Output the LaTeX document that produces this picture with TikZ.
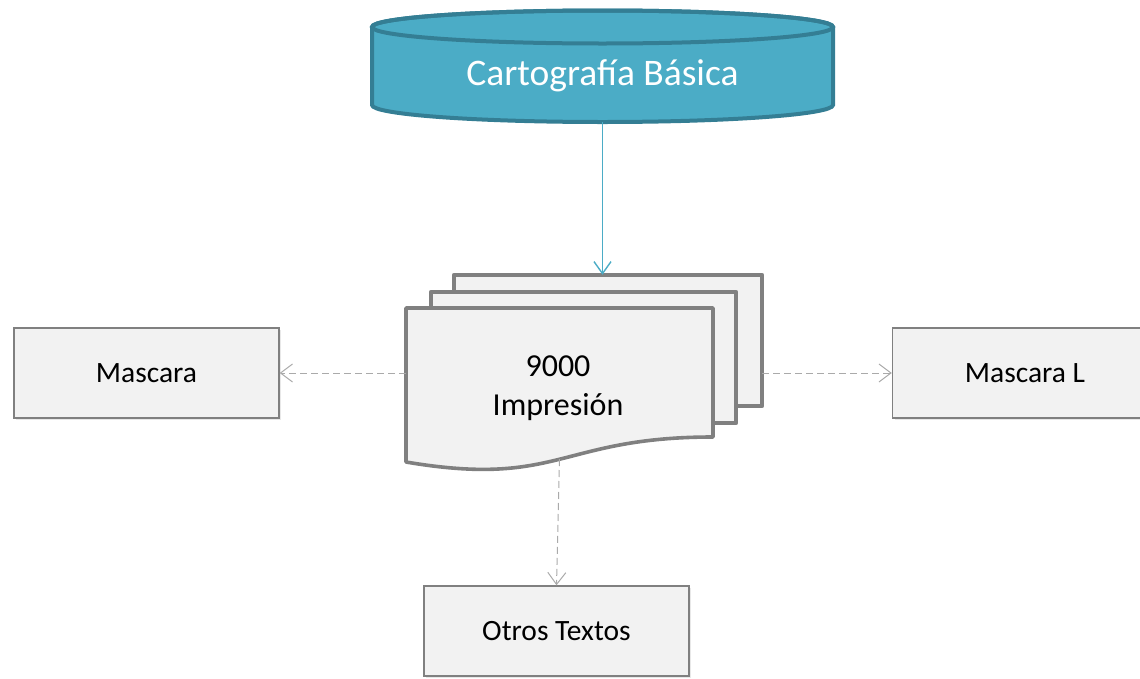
\documentclass[tikz,border=0pt]{standalone}
\usepackage{fontspec}
\setmainfont{Carlito}
\usepackage{xcolor}
\usetikzlibrary{arrows.meta, positioning, calc, shadows}

\definecolor{cylfill}{RGB}{75,172,198}
\definecolor{cyldraw}{RGB}{52,126,148}
\definecolor{docfill}{RGB}{242,242,242}
\definecolor{docdraw}{RGB}{128,128,128}
\definecolor{linkgray}{RGB}{170,170,170}

\begin{document}
\begin{tikzpicture}[
    x=1pt, y=-1pt,
    font=\fontsize{29.5}{38}\selectfont,
    cylbody/.style   ={draw=cyldraw, line width=4pt, fill=cylfill},
    doc/.style       ={draw=docdraw, line width=3.6pt, fill=docfill, line join=round},
    outbox/.style    ={draw=docdraw, line width=1.4pt, fill=docfill,
                       minimum width=265pt, minimum height=90pt, align=center,
                       drop shadow={opacity=0.18, shadow xshift=2pt, shadow yshift=-2pt}},
    slot/.style      ={inner sep=0pt, draw=none},
    feed/.style      ={-{Straight Barb[length=12pt, width=17pt]}, line width=1.4pt, cylfill},
    dashflow/.style  ={-{Straight Barb[length=12pt, width=18pt]}, line width=1pt, linkgray,
                       dash pattern=on 7pt off 4pt}
]
\useasboundingbox (0,0) rectangle (1140,678);

% =================== TOP: source database ===================
\node[slot, minimum width=461pt, minimum height=112pt] (carto) at (602.5,66) {};
\draw[cylbody] (372,27) -- (372,105) arc[start angle=180, end angle=0,
    x radius=230.5, y radius=17] -- (833,27) arc[start angle=0, end angle=-180,
    x radius=230.5, y radius=16.5] -- cycle;
\draw[cyldraw, line width=4pt] (602.5,27) ellipse[x radius=230.5, y radius=16.5];
\node[text=white, font=\fontsize{37.5}{44}\selectfont] (cartotxt) at (602.5,76)
    {Cartografía Básica};

% =================== MIDDLE: stacked documents ===================
\node[slot, minimum width=308pt, minimum height=131pt] (docC) at (608,340.5) {};
\node[slot, minimum width=305pt, minimum height=131pt] (docB) at (583.5,357.5) {};
\node[slot, minimum width=307pt, minimum height=160pt] (docA) at (559.5,388) {};

\draw[doc] (docC.north west) rectangle (docC.south east);
\draw[doc] (docB.north west) rectangle (docB.south east);
\draw[doc] (406,308) -- (713,308) -- (713,437)
    .. controls (559.5,437) and (559.5,488) .. (406,462) -- cycle;
\node[align=center, font=\fontsize{32}{39}\selectfont] (doctxt) at (558,388)
    {9000\\Impresión};

\coordinate (docbot) at (559.5,459);

% =================== OUTPUTS ===================
\node[outbox] (mask)  at (146.5,373) {Mascara};
\node[outbox] (maskL) at (1025,373)  {Mascara L};
\node[outbox] (otros) at (556.5,631) {Otros Textos};

% --- Arrows ---
\draw[feed] (carto.south) -- (carto.south |- docC.north);
\draw[dashflow] (docA.west |- mask.east) -- (mask.east);
\draw[dashflow] (docC.east |- maskL.west) -- (maskL.west);
\draw[dashflow] (docbot) -- (otros.north);

\end{tikzpicture}
\end{document}
